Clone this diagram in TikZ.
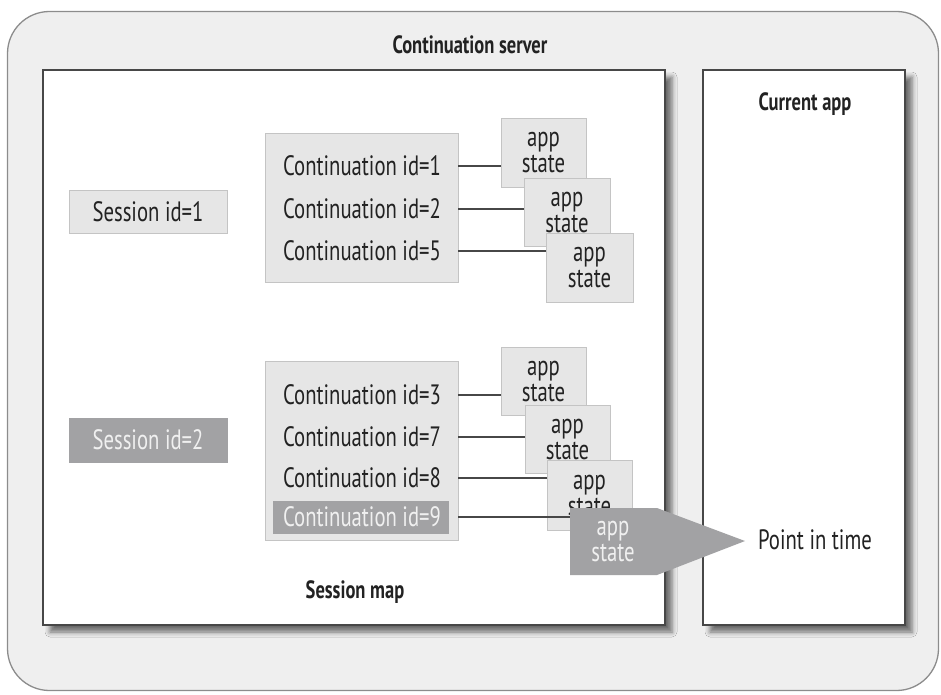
\documentclass[tikz,border=0pt]{standalone}
\usepackage{fontspec}
\setmainfont{PT Sans}[FakeStretch=0.74]
\usetikzlibrary{shadows.blur}
\definecolor{srvfill}{HTML}{EFEFEF}
\definecolor{srvdraw}{HTML}{8C8C8C}
\definecolor{lite}{HTML}{E6E6E6}
\definecolor{litedraw}{HTML}{C4C4C4}
\definecolor{dark}{HTML}{A2A2A4}
\definecolor{ink}{HTML}{222222}
\tikzset{
  txt/.style={font=\fontsize{28}{26}\selectfont, text=ink, inner sep=0pt},
  ttl/.style={font=\bfseries\fontsize{25}{26}\selectfont, text=ink, inner sep=0pt},
  outerbox/.style={draw=srvdraw, fill=srvfill, line width=1.3pt, rounded corners=42pt, inner sep=0pt},
  mainbox/.style={draw=black!72, fill=white, line width=1.8pt, inner sep=0pt,
    blur shadow={shadow xshift=7pt, shadow yshift=-7pt, shadow blur radius=5pt, shadow opacity=55}},
  litebox/.style={draw=litedraw, fill=lite, line width=0.9pt, inner sep=0pt},
  darkbox/.style={draw=dark, fill=dark, line width=0.9pt, inner sep=0pt},
  appbox/.style={litebox, txt, align=center},
  link/.style={draw=black!72, line width=2.4pt},
}
\begin{document}
\begin{tikzpicture}[x=1pt,y=-1pt]
\useasboundingbox (0,0) rectangle (941,695);
% containers
\node[outerbox, minimum width=931pt, minimum height=679pt] (server) at (473,351) {};
\node[ttl] (title) at (470,45) {Continuation server};
\node[mainbox, minimum width=622pt, minimum height=555pt] (sm) at (354,347.5) {};
\node[mainbox, minimum width=202pt, minimum height=555pt] (ca) at (804,347.5) {};
\node[ttl] (catitle) at (805,104) {Current app};
\node[ttl] (smtitle) at (355,592) {Session map};
% sessions
\node[litebox, txt, minimum width=158pt, minimum height=43pt] (s1) at (148,211.5) {Session id=1};
\node[darkbox, txt, text=white!94!black, minimum width=158pt, minimum height=44pt] (s2) at (148,440) {Session id=2};
% continuation groups
\node[litebox, minimum width=193pt, minimum height=149pt] (c1) at (361.5,207.5) {};
\node[litebox, minimum width=193pt, minimum height=179pt] (c2) at (361.5,450.5) {};
\node[txt] (r1) at (362,166) {Continuation id=1};
\node[txt] (r2) at (362,209) {Continuation id=2};
\node[txt] (r5) at (362,251) {Continuation id=5};
\node[txt] (r3) at (362,395) {Continuation id=3};
\node[txt] (r7) at (362,437) {Continuation id=7};
\node[txt] (r8) at (362,478) {Continuation id=8};
\node[darkbox, minimum width=175pt, minimum height=32pt] (h9) at (360.5,517) {};
\node[txt, text=white!94!black] (r9) at (362,517) {Continuation id=9};
% app states, group 1
\node[appbox, minimum width=85pt, minimum height=69pt] (a1) at (543.5,152.5) {app\\state};
\node[appbox, minimum width=86pt, minimum height=68pt] (a2) at (567,212) {app\\state};
\node[appbox, minimum width=87pt, minimum height=69pt] (a3) at (589.5,267.5) {app\\state};
\draw[link] (c1.east |- r1) -- (a1.west |- r1);
\draw[link] (c1.east |- r2) -- (a2.west |- r2);
\draw[link] (c1.east |- r5) -- (a3.west |- r5);
% app states, group 2
\node[appbox, minimum width=85pt, minimum height=68pt] (b1) at (543.5,381) {app\\state};
\node[appbox, minimum width=85pt, minimum height=68pt] (b2) at (567.5,439) {app\\state};
\node[appbox, minimum width=85pt, minimum height=70pt] (b3) at (589.5,495) {app\\state};
\draw[link] (c2.east |- r3) -- (b1.west |- r3);
\draw[link] (c2.east |- r7) -- (b2.west |- r7);
\draw[link] (c2.east |- r8) -- (b3.west |- r8);
\coordinate (b4w) at (570,517);
\draw[link] (c2.east |- r9) -- (b4w);
% current app state arrow
\fill[dark] (570,508) -- (657,508) -- (745,541) -- (657,575) -- (570,575) -- cycle;
\node[txt, text=white!94!black, align=center] (b4) at (613,541) {app\\state};
\node[txt] (pit) at (815,540) {Point in time};
\end{tikzpicture}
\end{document}
